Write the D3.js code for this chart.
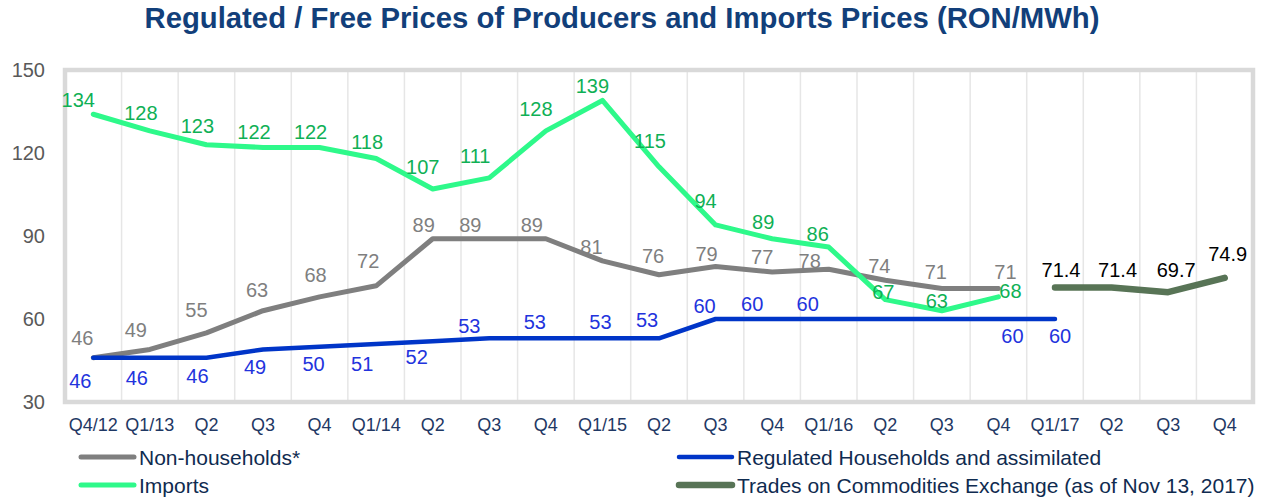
<!DOCTYPE html>
<html>
<head>
<meta charset="utf-8">
<script src="https://cdn.jsdelivr.net/npm/d3@7"></script>
<style>
  body { margin: 0; background: #fff; }
  svg text { font-family: "Liberation Sans", Arial, sans-serif; }
</style>
</head>
<body>
<div id="chart"></div>
<script>
// quarterly prices, RON/MWh
let quarters = ["Q4/12", "Q1/13", "Q2", "Q3", "Q4", "Q1/14", "Q2", "Q3", "Q4", "Q1/15", "Q2",
                "Q3", "Q4", "Q1/16", "Q2", "Q3", "Q4", "Q1/17", "Q2", "Q3", "Q4"];
let nonHouseholds = [46, 49, 55, 63, 68, 72, 89, 89, 89, 81, 76, 79, 77, 78, 74, 71, 71];
let imports = [134, 128, 123, 122, 122, 118, 107, 111, 128, 139, 115, 94, 89, 86, 67, 63, 68];
let regulated = [46, 46, 46, 49, 50, 51, 52, 53, 53, 53, 53, 60, 60, 60, 60, 60, 60, 60];
let trades = [71.4, 71.4, 69.7, 74.9];   // starts at Q1/17
let tradesFirstQuarter = 17;
let yTicks = [30, 60, 90, 120, 150];

let titleText = "Regulated / Free Prices of Producers and Imports Prices (RON/MWh)";

// label nudges [dx, dy] relative to each point (null = no label)
let nonHouseholdsNudge = [[-11,-13],[-14,-12],[-10,-16],[-6,-14],[-4,-15],[-8,-18],[-9,-7],[-19,-7],[-14,-7],
                          [-11,-7],[-6,-12],[-9,-5],[-10,-8],[-19,-1],[-6,-7],[-6,-10],[7,-10]];
let importsNudge = [[-15,-7],[-9,-11],[-9,-12],[-9,-8],[-9,-8],[-9,-10],[-10,-15],[-14,-15],[-10,-15],
                    [-10,-7],[-9,-19],[-10,-17],[-9,-10],[-11,-6],[-2,-1],[-5,-3],[12,1]];
let regulatedNudge = [[-13,30],[-13,27],[-9,25],[-8,25],[-6,24],[-14,27],[-16,23],[-20,-5],[-11,-9],
                      [-2,-9],[-12,-11],[-11,-6],[-20,-8],[-21,-8],null,null,[14,24],[5,24]];
let tradesNudge = [[6,-10],[6,-10],[8,-15],[3,-17]];

let width = 1265, height = 498;

let svg = d3.select("#chart")
            .append("svg")
            .attr("width", width)
            .attr("height", height);

let x = d3.scaleBand()
          .domain(d3.range(quarters.length))
          .range([65, 1253]);

let y = d3.scaleLinear()
          .domain([30, 150])
          .range([402, 70]);

let cx = function(i) { return x(i) + x.bandwidth() / 2; };

// title
svg.append("text")
   .attr("x", 622)
   .attr("y", 28)
   .attr("text-anchor", "middle")
   .attr("font-size", 29)
   .attr("font-weight", "bold")
   .attr("fill", "#123f7a")
   .attr("textLength", 955)
   .attr("lengthAdjust", "spacingAndGlyphs")
   .text(titleText);

// vertical gridlines between quarters
svg.append("g")
   .selectAll("line")
   .data(d3.range(1, quarters.length))
   .enter().append("line")
   .attr("x1", function(d) { return x(d); })
   .attr("x2", function(d) { return x(d); })
   .attr("y1", y(150))
   .attr("y2", y(30))
   .attr("stroke", "#e6e6e6")
   .attr("stroke-width", 1.5);

// plot frame
svg.append("rect")
   .attr("x", 65)
   .attr("y", y(150))
   .attr("width", 1253 - 65)
   .attr("height", y(30) - y(150))
   .attr("fill", "none")
   .attr("stroke", "#d9d9d9")
   .attr("stroke-width", 4.5);

// axes
let yAxis = svg.append("g")
   .attr("transform", "translate(65,0)")
   .call(d3.axisLeft(y).tickValues(yTicks).tickSize(0).tickPadding(20));
yAxis.select(".domain").remove();
yAxis.selectAll("text")
     .attr("font-size", 20)
     .attr("fill", "#595959")
     .style("font-family", "'Liberation Sans', Arial, sans-serif");

let xAxis = svg.append("g")
   .attr("transform", "translate(0,402)")
   .call(d3.axisBottom(x).tickFormat(function(i) { return quarters[i]; }).tickSize(0).tickPadding(16));
xAxis.select(".domain").remove();
xAxis.selectAll("text")
     .attr("font-size", 18)
     .attr("fill", "#1f3864")
     .style("font-family", "'Liberation Sans', Arial, sans-serif");

// series
let series = [
  {name: "Non-households*", values: nonHouseholds, start: 0, color: "#7f7f7f", labelColor: "#7f7f7f",
   width: 5, nudge: nonHouseholdsNudge, fmt: d3.format("d")},
  {name: "Regulated Households and assimilated", values: regulated, start: 0, color: "#0035c8", labelColor: "#2233dd",
   width: 4.5, nudge: regulatedNudge, fmt: d3.format("d")},
  {name: "Imports", values: imports, start: 0, color: "#2ef98a", labelColor: "#0fb055",
   width: 5, nudge: importsNudge, fmt: d3.format("d")},
  {name: "Trades on Commodities Exchange (as of Nov 13, 2017)", values: trades, start: tradesFirstQuarter,
   color: "#587456", labelColor: "#000000", width: 6.5, nudge: tradesNudge, fmt: d3.format(".1f")}
];

let line = d3.line()
             .x(function(d) { return cx(d.i); })
             .y(function(d) { return y(d.v); });

series.forEach(function(s) {
  let pts = s.values.map(function(v, k) { return {i: s.start + k, v: v, nudge: s.nudge[k]}; });
  s.points = pts;
  svg.append("path")
     .datum(pts)
     .attr("fill", "none")
     .attr("stroke", s.color)
     .attr("stroke-width", s.width)
     .attr("stroke-linejoin", "round")
     .attr("stroke-linecap", "round")
     .attr("d", line);
});

series.forEach(function(s) {
  svg.append("g")
     .selectAll("text")
     .data(s.points.filter(function(d) { return d.nudge; }))
     .enter().append("text")
     .attr("x", function(d) { return cx(d.i) + d.nudge[0]; })
     .attr("y", function(d) { return y(d.v) + d.nudge[1]; })
     .attr("text-anchor", "middle")
     .attr("font-size", 20)
     .attr("fill", s.labelColor)
     .text(function(d) { return s.fmt(d.v); });
});

// legend
let legendSlots = [
  {s: series[0], x: 81, y: 457},
  {s: series[2], x: 81, y: 485},
  {s: series[1], x: 679, y: 457},
  {s: series[3], x: 679, y: 485}
];

let legend = svg.append("g")
   .selectAll("g")
   .data(legendSlots)
   .enter().append("g")
   .attr("transform", function(d) { return "translate(" + d.x + "," + d.y + ")"; });

legend.append("line")
      .attr("x1", 0)
      .attr("x2", 53)
      .attr("stroke", function(d) { return d.s.color; })
      .attr("stroke-width", function(d) { return d.s.width; })
      .attr("stroke-linecap", "round");

legend.append("text")
      .attr("x", 58)
      .attr("y", 8)
      .attr("font-size", 21)
      .attr("fill", "#0f2b50")
      .text(function(d) { return d.s.name; });
</script>
</body>
</html>
